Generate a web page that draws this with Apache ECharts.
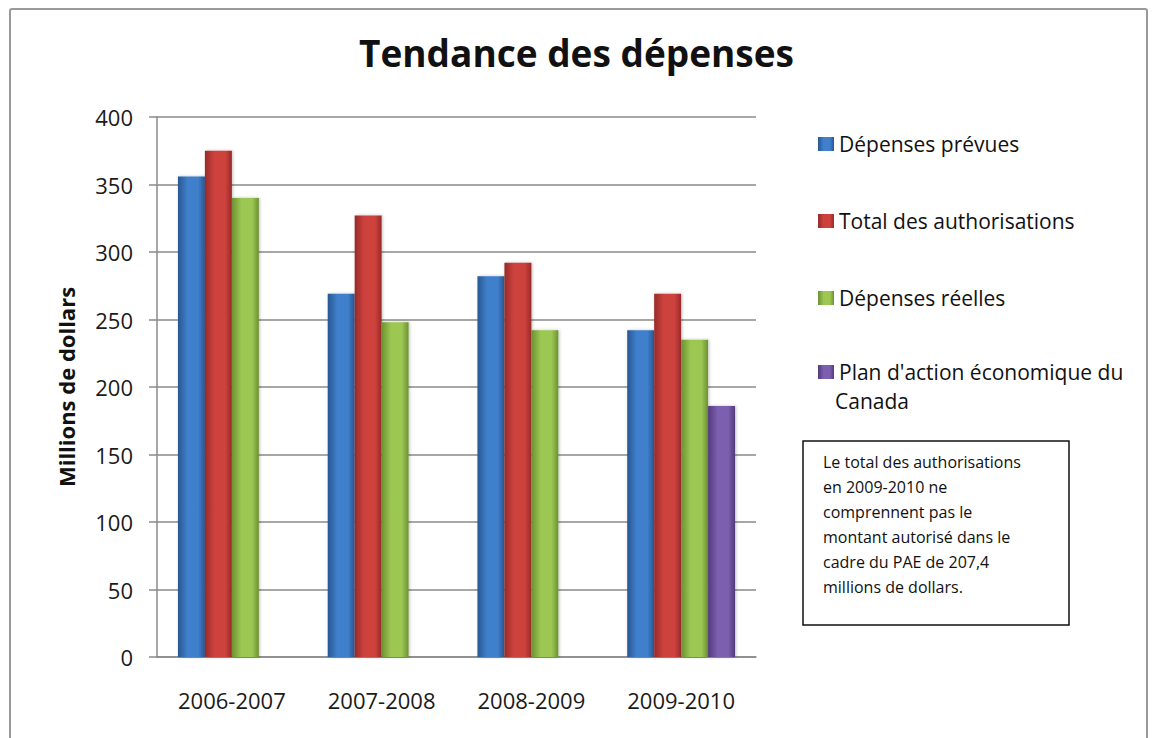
<!DOCTYPE html>
<html>
<head>
<meta charset="utf-8">
<title>Tendance des dépenses</title>
<script src="https://cdn.jsdelivr.net/npm/echarts@6/dist/echarts.min.js"></script>
<style>
html, body { margin: 0; padding: 0; background: #fff; }
#chart { width: 1153px; height: 738px; }
</style>
</head>
<body>
<div id="chart"></div>
<script>
var years = ['2006-2007', '2007-2008', '2008-2009', '2009-2010'];
var prevues = [356, 269, 282, 242];
var autorisations = [375, 327, 292, 269];
var reelles = [340, 248, 242, 235];
var pae = [null, null, null, 186];
var yTicks = [0, 50, 100, 150, 200, 250, 300, 350, 400];

var FONT = '"Open Sans", Lato, sans-serif';

function barFill(edge, mid) {
    return {
        type: 'linear', x: 0, y: 0, x2: 1, y2: 0,
        colorStops: [
            { offset: 0, color: edge },
            { offset: 0.35, color: mid },
            { offset: 0.75, color: mid },
            { offset: 1, color: edge }
        ]
    };
}

function makeSeries(name, data, edge, mid) {
    return {
        name: name,
        type: 'bar',
        data: data,
        barGap: '0%',
        barCategoryGap: '28%',
        itemStyle: {
            color: barFill(edge, mid),
            shadowColor: 'rgba(0,0,0,0.25)',
            shadowBlur: 3,
            shadowOffsetX: 1
        }
    };
}

var chart = echarts.init(document.getElementById('chart'), null, { renderer: 'svg' });

var legendText = { fontFamily: FONT, fontSize: 21, color: '#111', lineHeight: 24 };

var option = {
    animation: false,
    backgroundColor: '#fff',
    title: {
        text: 'Tendance des dépenses',
        left: 'center',
        top: 29,
        textStyle: { fontFamily: FONT, fontWeight: 'bold', fontSize: 37, color: '#111' }
    },
    legend: [{
        orient: 'vertical',
        left: 813,
        top: 127,
        itemWidth: 16,
        itemHeight: 14,
        itemGap: 53,
        icon: 'rect',
        data: ['Dépenses prévues', 'Total des authorisations', 'Dépenses réelles'],
        textStyle: legendText
    }, {
        orient: 'vertical',
        left: 813,
        top: 355,
        itemWidth: 16,
        itemHeight: 14,
        icon: 'rect',
        data: ["Plan d'action économique du Canada"],
        formatter: function () { return "Plan d'action économique du"; },
        textStyle: legendText
    }],
    grid: { left: 157, right: 397, top: 117, bottom: 81 },
    xAxis: {
        type: 'category',
        data: years,
        axisLine: { lineStyle: { color: '#8a8a8a', width: 1.5 } },
        axisTick: { show: false },
        axisLabel: { fontFamily: FONT, fontSize: 22, color: '#1a1a1a', margin: 32 }
    },
    yAxis: {
        type: 'value',
        min: yTicks[0],
        max: yTicks[yTicks.length - 1],
        interval: 50,
        name: 'Millions de dollars',
        nameLocation: 'middle',
        nameGap: 80,
        nameTextStyle: { fontFamily: FONT, fontWeight: 'bold', fontSize: 22, color: '#111' },
        axisLine: { show: true, lineStyle: { color: '#8a8a8a', width: 1.5 } },
        axisTick: { show: true, length: 8, lineStyle: { color: '#8a8a8a', width: 1.5 } },
        splitLine: { lineStyle: { color: '#8a8a8a', width: 1.5 } },
        axisLabel: { fontFamily: FONT, fontSize: 22, color: '#1a1a1a', margin: 24 }
    },
    series: [
        makeSeries('Dépenses prévues', prevues, '#285792', '#3f7fcb'),
        makeSeries('Total des authorisations', autorisations, '#982a28', '#cd423e'),
        makeSeries('Dépenses réelles', reelles, '#6c9132', '#9cc752'),
        makeSeries("Plan d'action économique du Canada", pae, '#523a7c', '#7c5fae')
    ],
    graphic: [{
        type: 'rect',
        shape: { x: 10, y: 9, width: 1137, height: 760, r: 2 },
        style: { fill: 'none', stroke: '#999', lineWidth: 2 },
        silent: true
    }, {
        type: 'text',
        left: 835,
        top: 390,
        style: { text: 'Canada', font: '21px ' + FONT, fill: '#111' }
    }, {
        type: 'rect',
        shape: { x: 803, y: 441, width: 266, height: 184 },
        style: { fill: '#fff', stroke: '#111', lineWidth: 1.5 }
    }, {
        type: 'text',
        left: 823,
        top: 449,
        style: {
            text: 'Le total des authorisations\nen 2009-2010 ne\ncomprennent pas le\nmontant autorisé dans le\ncadre du PAE de 207,4\nmillions de dollars.',
            font: '16px ' + FONT,
            fill: '#111',
            lineHeight: 25
        }
    }]
};

chart.setOption(option);
</script>
</body>
</html>
